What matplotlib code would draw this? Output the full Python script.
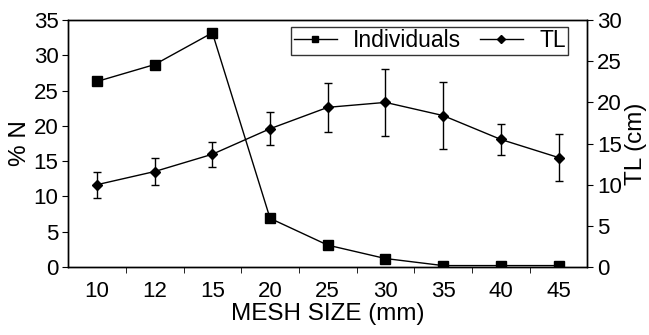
import matplotlib
matplotlib.use("Agg")
import matplotlib.pyplot as plt
from matplotlib.lines import Line2D

plt.rcParams['font.family'] = ['Liberation Sans', 'DejaVu Sans']

mesh = ['10', '12', '15', '20', '25', '30', '35', '40', '45']
individuals = [26.3, 28.7, 33.2, 6.9, 3.1, 1.2, 0.2, 0.2, 0.2]
tl = [10.0, 11.6, 13.7, 16.8, 19.4, 20.0, 18.4, 15.5, 13.3]
tl_err = [1.6, 1.6, 1.5, 2.0, 3.0, 4.1, 4.1, 1.85, 2.8]

fig, ax = plt.subplots(figsize=(6.49, 3.35), dpi=100)
fig.subplots_adjust(left=0.105, right=0.905, top=0.94, bottom=0.203)

x = list(range(len(mesh)))
ax.plot(x, individuals, color='black', lw=1, marker='s', ms=7)
ax.set_ylim(0, 35)
ax.set_xlim(-0.5, len(mesh) - 0.5)
ax.set_yticks(range(0, 36, 5))
ax.set_xticks(x)
ax.set_xticklabels(mesh)
ax.set_xticks([i + 0.5 for i in x[:-1]], minor=True)
ax.tick_params(axis='x', which='major', length=0, labelsize=16, pad=10)
ax.tick_params(axis='x', which='minor', length=4, direction='out')
ax.tick_params(axis='y', labelsize=16, length=4, direction='out', pad=3)
ax.set_ylabel('% N', fontsize=17.5, labelpad=2)
ax.set_xlabel('MESH SIZE (mm)', fontsize=17.5, labelpad=1)

ax2 = ax.twinx()
ax2.errorbar(x, tl, yerr=tl_err, color='black', lw=1, marker='D', ms=5,
             capsize=3, elinewidth=1, capthick=1)
ax2.set_ylim(0, 30)
ax2.set_yticks(range(0, 31, 5))
ax2.tick_params(axis='y', labelsize=16, length=4, direction='out', pad=3)
ax2.set_ylabel('TL (cm)', fontsize=17.5, labelpad=2)

for a in (ax, ax2):
    for s in a.spines.values():
        s.set_linewidth(1)

h1 = Line2D([], [], color='black', lw=1, marker='s', ms=5)
h2 = Line2D([], [], color='black', lw=1, marker='D', ms=4)
leg = ax.legend([h1, h2], ['Individuals', 'TL'], loc='upper right', ncol=2,
                fontsize=16.5, frameon=True, fancybox=False, edgecolor='black',
                borderpad=0.1, handlelength=1.9, columnspacing=0.8,
                handletextpad=0.7, borderaxespad=0,
                bbox_to_anchor=(0.963, 0.972))
leg.get_frame().set_linewidth(1)

fig.savefig('out.png', dpi=100)
